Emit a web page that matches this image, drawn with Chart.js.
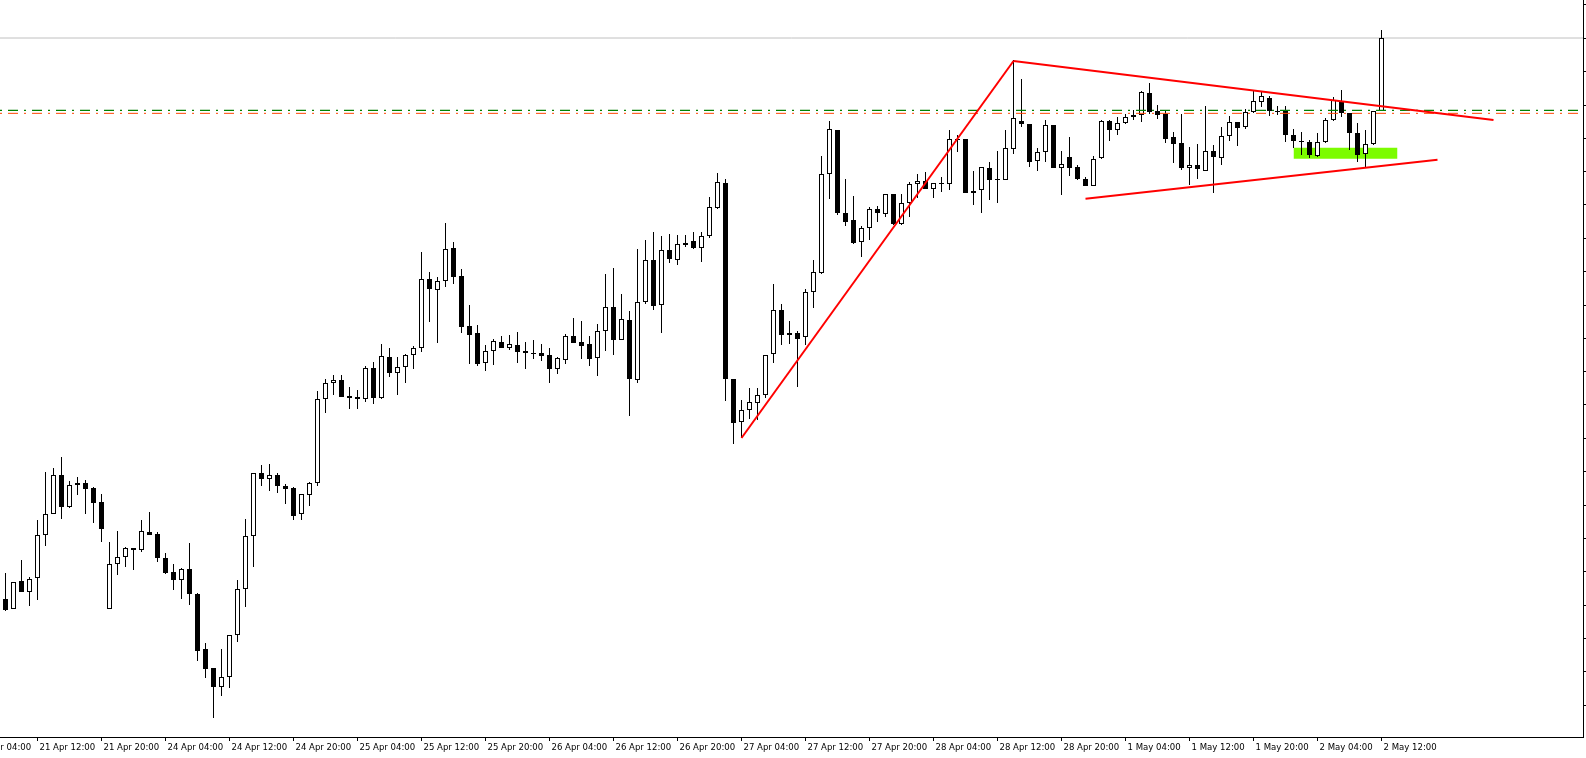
<!DOCTYPE html>
<html>
<head>
<meta charset="utf-8">
<script src="https://cdn.jsdelivr.net/npm/chart.js@4/dist/chart.umd.min.js"></script>
<style>
html,body{margin:0;padding:0;background:#fff;overflow:hidden}
canvas{display:block}
</style>
</head>
<body>
<canvas id="c" width="1586" height="758"></canvas>
<script>
// H1 candles, first bar = 21 Apr 08:00
const openP = [1.28218,1.28188,1.28272,1.28239,1.28281,1.28410,1.28473,1.28590,1.28494,1.28560,1.28566,1.28551,1.28509,1.28188,1.28323,1.28344,1.28371,1.28365,1.28419,1.28413,1.28341,1.28299,1.28275,1.28308,1.28233,1.28068,1.28011,1.27954,1.27984,1.28110,1.28248,1.28407,1.28596,1.28578,1.28590,1.28557,1.28551,1.28473,1.28530,1.28566,1.28818,1.28866,1.28875,1.28827,1.28824,1.28818,1.28911,1.28821,1.28944,1.28896,1.28914,1.28950,1.28971,1.29178,1.29145,1.29172,1.29271,1.29187,1.29037,1.29016,1.28926,1.28962,1.28989,1.28971,1.28980,1.28962,1.28956,1.28956,1.28950,1.28908,1.28935,1.29007,1.28989,1.28983,1.28941,1.29022,1.29094,1.28995,1.29055,1.28875,1.29109,1.29235,1.29100,1.29265,1.29235,1.29280,1.29292,1.29271,1.29307,1.29391,1.29466,1.28878,1.28749,1.28785,1.28806,1.28830,1.28953,1.29085,1.29010,1.29016,1.29004,1.29139,1.29196,1.29493,1.29625,1.29376,1.29355,1.29289,1.29331,1.29388,1.29373,1.29433,1.29343,1.29406,1.29463,1.29472,1.29448,1.29466,1.29463,1.29598,1.29598,1.29436,1.29445,1.29511,1.29478,1.29475,1.29568,1.29652,1.29643,1.29532,1.29559,1.29640,1.29511,1.29544,1.29514,1.29478,1.29457,1.29541,1.29652,1.29625,1.29646,1.29664,1.29670,1.29736,1.29682,1.29673,1.29604,1.29586,1.29511,1.29520,1.29502,1.29562,1.29541,1.29607,1.29649,1.29634,1.29679,1.29709,1.29721,1.29682,1.29682,1.29610,1.29592,1.29589,1.29547,1.29589,1.29655,1.29712,1.29676,1.29616,1.29553,1.29583,1.29682];
const highP = [1.28296,1.28269,1.28335,1.28284,1.28455,1.28599,1.28611,1.28644,1.28572,1.28584,1.28575,1.28554,1.28533,1.28389,1.28422,1.28374,1.28371,1.28455,1.28479,1.28419,1.28356,1.28323,1.28311,1.28386,1.28236,1.28086,1.28011,1.28068,1.28110,1.28275,1.28458,1.28596,1.28620,1.28623,1.28596,1.28563,1.28554,1.28533,1.28569,1.28842,1.28878,1.28890,1.28890,1.28854,1.28845,1.28917,1.28929,1.28983,1.28971,1.28944,1.28953,1.28977,1.29259,1.29199,1.29184,1.29346,1.29289,1.29208,1.29100,1.29040,1.28980,1.28998,1.29007,1.29010,1.29019,1.28989,1.28995,1.28983,1.28971,1.28944,1.29013,1.29061,1.29052,1.29007,1.29043,1.29193,1.29211,1.29133,1.29082,1.29268,1.29295,1.29319,1.29307,1.29313,1.29310,1.29310,1.29319,1.29319,1.29424,1.29496,1.29478,1.28878,1.28815,1.28851,1.28851,1.28950,1.29163,1.29103,1.29052,1.29022,1.29148,1.29235,1.29547,1.29652,1.29625,1.29478,1.29427,1.29337,1.29394,1.29397,1.29433,1.29433,1.29433,1.29469,1.29493,1.29499,1.29466,1.29484,1.29625,1.29610,1.29598,1.29502,1.29514,1.29529,1.29562,1.29625,1.29835,1.29778,1.29643,1.29571,1.29655,1.29640,1.29562,1.29604,1.29520,1.29484,1.29547,1.29655,1.29655,1.29664,1.29673,1.29685,1.29742,1.29766,1.29700,1.29682,1.29619,1.29673,1.29574,1.29583,1.29697,1.29580,1.29634,1.29667,1.29649,1.29688,1.29742,1.29742,1.29727,1.29697,1.29697,1.29628,1.29619,1.29595,1.29616,1.29661,1.29724,1.29745,1.29676,1.29646,1.29625,1.29682,1.29925];
const lowP = [1.28182,1.28188,1.28239,1.28197,1.28215,1.28377,1.28473,1.28458,1.28491,1.28530,1.28473,1.28446,1.28389,1.28188,1.28290,1.28314,1.28305,1.28359,1.28410,1.28329,1.28293,1.28245,1.28218,1.28200,1.28032,1.27981,1.27861,1.27927,1.27951,1.28089,1.28194,1.28314,1.28557,1.28542,1.28536,1.28503,1.28455,1.28455,1.28497,1.28557,1.28776,1.28830,1.28824,1.28788,1.28788,1.28809,1.28803,1.28818,1.28884,1.28830,1.28866,1.28908,1.28959,1.29049,1.28986,1.29154,1.29163,1.29016,1.28923,1.28917,1.28902,1.28920,1.28971,1.28965,1.28926,1.28908,1.28938,1.28932,1.28866,1.28893,1.28923,1.28986,1.28938,1.28917,1.28887,1.28962,1.28950,1.28995,1.28767,1.28866,1.29103,1.29085,1.29016,1.29226,1.29220,1.29274,1.29268,1.29229,1.29301,1.29388,1.28812,1.28683,1.28701,1.28758,1.28755,1.28821,1.28926,1.28980,1.28983,1.28854,1.28980,1.29091,1.29193,1.29418,1.29370,1.29337,1.29283,1.29244,1.29295,1.29349,1.29364,1.29340,1.29340,1.29364,1.29421,1.29448,1.29421,1.29439,1.29445,1.29559,1.29436,1.29400,1.29376,1.29415,1.29406,1.29475,1.29553,1.29634,1.29514,1.29502,1.29529,1.29511,1.29430,1.29487,1.29475,1.29457,1.29457,1.29538,1.29592,1.29610,1.29643,1.29655,1.29649,1.29673,1.29658,1.29586,1.29526,1.29505,1.29460,1.29478,1.29502,1.29436,1.29520,1.29592,1.29577,1.29628,1.29676,1.29694,1.29667,1.29670,1.29589,1.29571,1.29550,1.29541,1.29544,1.29586,1.29652,1.29664,1.29565,1.29529,1.29514,1.29580,1.29682];
const closeP = [1.28185,1.28269,1.28239,1.28278,1.28410,1.28473,1.28590,1.28494,1.28560,1.28566,1.28548,1.28506,1.28428,1.28323,1.28344,1.28371,1.28365,1.28422,1.28410,1.28341,1.28296,1.28275,1.28308,1.28233,1.28062,1.28008,1.27954,1.27984,1.28110,1.28248,1.28407,1.28596,1.28578,1.28590,1.28557,1.28548,1.28467,1.28533,1.28566,1.28818,1.28866,1.28875,1.28824,1.28821,1.28818,1.28911,1.28821,1.28947,1.28896,1.28914,1.28950,1.28971,1.29178,1.29148,1.29172,1.29268,1.29184,1.29034,1.29010,1.28923,1.28962,1.28992,1.28971,1.28983,1.28959,1.28956,1.28953,1.28947,1.28908,1.28941,1.29007,1.28986,1.28977,1.28938,1.29022,1.29094,1.28995,1.29058,1.28878,1.29109,1.29235,1.29097,1.29265,1.29238,1.29283,1.29286,1.29271,1.29307,1.29394,1.29469,1.28878,1.28746,1.28785,1.28809,1.28830,1.28950,1.29085,1.29010,1.29016,1.28998,1.29139,1.29199,1.29493,1.29628,1.29376,1.29349,1.29286,1.29331,1.29388,1.29376,1.29433,1.29343,1.29406,1.29463,1.29472,1.29448,1.29466,1.29463,1.29598,1.29595,1.29436,1.29442,1.29514,1.29475,1.29475,1.29571,1.29661,1.29643,1.29529,1.29559,1.29640,1.29511,1.29523,1.29511,1.29478,1.29457,1.29538,1.29652,1.29625,1.29646,1.29664,1.29670,1.29739,1.29679,1.29670,1.29598,1.29583,1.29511,1.29520,1.29508,1.29562,1.29544,1.29607,1.29649,1.29631,1.29679,1.29712,1.29727,1.29682,1.29679,1.29610,1.29592,1.29589,1.29550,1.29589,1.29655,1.29715,1.29676,1.29616,1.29550,1.29583,1.29682,1.29901];

// time axis labels (bar index -> label)
const tickBars = [-4,4,12,20,28,36,44,52,60,68,76,84,92,100,108,116,124,132,140,148,156,164,172];
const tickLabels = ["21 Apr 04:00","21 Apr 12:00","21 Apr 20:00","24 Apr 04:00","24 Apr 12:00","24 Apr 20:00","25 Apr 04:00","25 Apr 12:00","25 Apr 20:00","26 Apr 04:00","26 Apr 12:00","26 Apr 20:00","27 Apr 04:00","27 Apr 12:00","27 Apr 20:00","28 Apr 04:00","28 Apr 12:00","28 Apr 20:00","1 May 04:00","1 May 12:00","1 May 20:00","2 May 04:00","2 May 12:00"];
const priceTicks = [1.279,1.280,1.281,1.282,1.283,1.284,1.285,1.286,1.287,1.288,1.289,1.290,1.291,1.292,1.293,1.294,1.295,1.296,1.297,1.298,1.299,1.300];

// drawn objects
const bidPrice = 1.29901;
const levelGreen = 1.29684;
const levelOrange = 1.29675;
const trendRise = [{x:92,y:1.28701},{x:126,y:1.29832}];
const trendTop = [{x:126,y:1.29832},{x:186,y:1.29655}];
const trendBottom = [{x:135,y:1.29419},{x:179,y:1.29536}];
const zoneBars = [161,174];
const zonePrices = [1.29539,1.29572];

const xMin = -0.6875, xMax = 197.1875;
const yMin = 1.27804, yMax = 1.30015;

const idx = openP.map((_, i) => i);
const wickData = idx.map(i => ({x:i, y:[lowP[i], highP[i]]}));
const bodyData = idx.map(i => ({x:i, y:[openP[i], closeP[i]]}));
const bodyFill = idx.map(i => closeP[i] > openP[i] ? '#ffffff' : '#000000');

const hline = (v) => [{x:xMin-2,y:v},{x:xMax+2,y:v}];

const bg = {id:'bg', beforeDraw(c){const x=c.ctx; x.save(); x.fillStyle='#fff'; x.fillRect(0,0,c.width,c.height); x.restore();}};

new Chart(document.getElementById('c'), {
  type: 'bar',
  data: {
    datasets: [
      {type:'line', data:[{x:zoneBars[0],y:zonePrices[1]},{x:zoneBars[1],y:zonePrices[1]}], fill:{value:zonePrices[0]}, backgroundColor:'#7CFC00', borderWidth:0, pointRadius:0, order:10},
      {type:'line', data:hline(bidPrice), borderColor:'#C0C0C0', borderWidth:1, pointRadius:0, fill:false, order:9},
      {type:'bar', data:wickData, backgroundColor:'#000', borderWidth:0, barThickness:1, grouped:false, inflateAmount:0, order:5},
      {type:'bar', data:bodyData, backgroundColor:bodyFill, borderColor:'#000', borderWidth:1, borderSkipped:false, barThickness:5, grouped:false, inflateAmount:0, minBarLength:1, order:4},
      {type:'line', data:hline(levelGreen), borderColor:'#008000', borderWidth:1.3, borderDash:[10,6,2,6], pointRadius:0, fill:false, order:2},
      {type:'line', data:hline(levelOrange), borderColor:'#FF4500', borderWidth:1, borderDash:[10,6,2,6], pointRadius:0, fill:false, order:2},
      {type:'line', data:trendRise, borderColor:'#FF0000', borderWidth:2, pointRadius:0, fill:false, order:1},
      {type:'line', data:trendTop, borderColor:'#FF0000', borderWidth:2, pointRadius:0, fill:false, order:1},
      {type:'line', data:trendBottom, borderColor:'#FF0000', borderWidth:2, pointRadius:0, fill:false, order:1}
    ]
  },
  options: {
    responsive:false,
    animation:false,
    devicePixelRatio:1,
    layout:{padding:0},
    plugins:{legend:{display:false}, tooltip:{enabled:false}},
    events:[],
    scales:{
      x:{
        type:'linear', position:'bottom', min:xMin, max:xMax, offset:false,
        afterBuildTicks: s => { s.ticks = tickBars.map(v => ({value:v})); },
        afterFit: s => { s.height = 21; s.paddingLeft = 0; s.paddingRight = 0; },
        grid:{drawOnChartArea:false, drawTicks:true, tickLength:4, color:'#000', offset:false},
        border:{display:true, color:'#000', width:1},
        ticks:{autoSkip:false, maxRotation:0, minRotation:0, align:'start', labelOffset:2, padding:1, color:'#000',
               font:{family:"'DejaVu Sans Condensed','Liberation Sans',sans-serif", size:9.5},
               callback:(v,i) => tickLabels[i]}
      },
      y:{
        type:'linear', position:'right', min:yMin, max:yMax,
        afterBuildTicks: s => { s.ticks = priceTicks.map(v => ({value:v})); },
        afterFit: s => { s.width = 3; s.paddingTop = 0; s.paddingBottom = 0; },
        grid:{drawOnChartArea:false, drawTicks:true, tickLength:3, color:'#000'},
        border:{display:true, color:'#000', width:1},
        ticks:{display:false}
      }
    }
  },
  plugins:[bg]
});
</script>
</body>
</html>
